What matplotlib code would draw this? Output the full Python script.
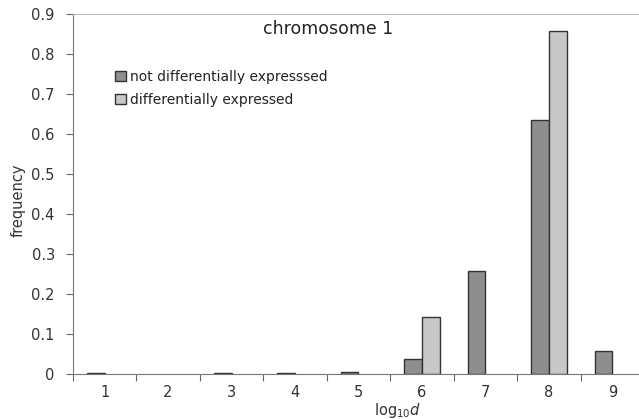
import numpy as np
import matplotlib.pyplot as plt

categories = [1, 2, 3, 4, 5, 6, 7, 8, 9]
not_de = [0.002, 0.0, 0.002, 0.002, 0.006, 0.038, 0.258, 0.636, 0.058]
de = [0.0, 0.0, 0.0, 0.0, 0.0, 0.143, 0.0, 0.857, 0.0]
yticks = [0, 0.1, 0.2, 0.3, 0.4, 0.5, 0.6, 0.7, 0.8, 0.9]

plt.rcParams['font.family'] = 'DejaVu Sans'
fig = plt.figure(figsize=(6.39, 4.19), dpi=100)
ax = fig.add_axes([0.114, 0.1074, 0.894, 0.8592])

x = np.array(categories)
w = 0.28
# no outline on empty bars
lw1 = [1 if v > 0 else 0 for v in not_de]
lw2 = [1 if v > 0 else 0 for v in de]
ax.bar(x - w / 2, not_de, w, color='#8e8e8e', edgecolor='#333333',
       linewidth=lw1, label='not differentially expresssed')
ax.bar(x + w / 2, de, w, color='#c8c8c8', edgecolor='#333333',
       linewidth=lw2, label='differentially expressed')

ax.set_xlim(0.5, 9.5)
ax.set_ylim(0, 0.9)
ax.set_yticks(yticks)
ax.set_yticklabels(['0'] + ['%.1f' % v for v in yticks[1:]])
ax.set_xticks(np.arange(0.5, 9.5, 1.0))
ax.set_xticklabels([])
ax.set_xticks(x, minor=True)
ax.set_xticklabels([str(c) for c in categories], minor=True)
ax.tick_params(axis='x', which='minor', length=0, pad=8)
ax.tick_params(axis='both', which='major', direction='out', length=5,
               color='#666666', labelsize=10.5, labelcolor='#333333')
ax.tick_params(axis='x', which='minor', labelsize=10.5, labelcolor='#333333')
ax.tick_params(axis='y', pad=8)

for s in ['left', 'bottom']:
    ax.spines[s].set_color('#777777')
ax.spines['top'].set_color('#bbbbbb')
ax.spines['right'].set_visible(False)

ax.text(0.4465, 0.958, 'chromosome 1', transform=ax.transAxes, ha='center',
        va='center', fontsize=12.5, color='#222222')

leg = ax.legend(loc='upper left', bbox_to_anchor=(0.074, 0.845), frameon=False,
                fontsize=10, handlelength=0.75, handleheight=0.75,
                handletextpad=0.3, labelspacing=0.65, borderpad=0,
                borderaxespad=0)
for t in leg.get_texts():
    t.set_color('#222222')
for h in leg.legend_handles:
    h.set_linewidth(1)
    h.set_edgecolor('#333333')

fig.text(398 / 639, 1 - 410 / 419, r'$\mathregular{log_{10}}\mathit{d}$',
         ha='center', va='center', fontsize=10.5, color='#333333')
fig.text(18 / 639, 1 - 200 / 419, 'frequency', rotation=90, ha='center',
         va='center', fontsize=10.5, color='#333333')

fig.savefig('out.png', dpi=100)
